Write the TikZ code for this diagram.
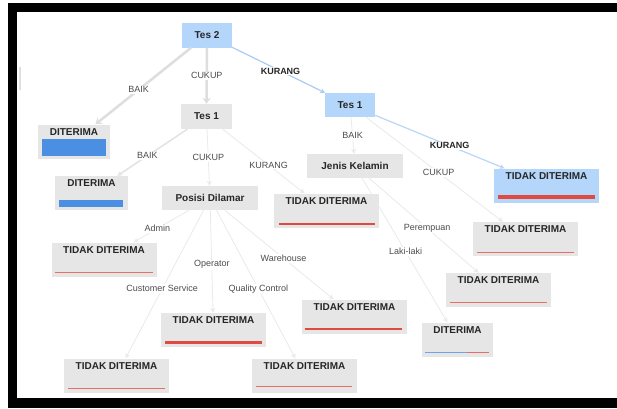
\documentclass[tikz,border=0pt]{standalone}
\usepackage{fontspec}
\setmainfont{Liberation Sans}
\usetikzlibrary{arrows.meta}

\definecolor{kotakabu}{HTML}{E6E6E6}
\definecolor{kotakbiru}{HTML}{B5D6FB}
\definecolor{batangbiru}{HTML}{4A8FE2}
\definecolor{batangmerah}{HTML}{E04A3F}
\definecolor{merahmuda}{HTML}{EA6E66}
\definecolor{garisabu}{HTML}{EAEAEA}
\definecolor{garisbiru}{HTML}{A9CCF6}

\begin{document}
\begin{tikzpicture}[x=1pt, y=-1pt, >={Stealth[length=5pt,width=5pt]},
    uji/.style={fill=kotakabu, minimum height=25pt, inner sep=0pt,
        font=\fontsize{10}{12}\selectfont\bfseries, text=black!85},
    hasil/.style={fill=kotakabu, minimum width=105pt, inner sep=0pt,
        text height=10.5pt, text depth=23.5pt,
        font=\fontsize{10}{12}\selectfont\bfseries, text=black!85},
    panah/.style={->, draw=garisabu, line width=0.8pt},
    ket/.style={fill=white, inner sep=1pt, text=black!70,
        font=\fontsize{9}{10}\selectfont},
    ketb/.style={ket, text=black!85, font=\fontsize{9}{10}\selectfont\bfseries}]

    % Frame
    \useasboundingbox (0,0) rectangle (617,408);
    \fill[white] (0,0) rectangle (617,408);
    \fill[black] (8,3) rectangle (617,408);
    \fill[white] (17,12) rectangle (617,398);
    \fill[black!12] (19,67) rectangle (21,90);

    % Tests
    \node[uji, fill=kotakbiru, minimum width=50pt] (tes2) at (207,35) {Tes 2};
    \node[uji, minimum width=51pt] (tes1a) at (206.5,116.5) {Tes 1};
    \node[uji, fill=kotakbiru, minimum width=50pt, minimum height=24pt] (tes1b) at (350,105) {Tes 1};
    \node[uji, minimum width=96pt, minimum height=24pt] (posisi) at (210,198) {Posisi Dilamar};
    \node[uji, minimum width=96pt, minimum height=24pt] (jenis) at (355,166) {Jenis Kelamin};

    % Results
    \node[hasil, minimum width=72pt] (dit1) at (74,141.5) {DITERIMA};
    \node[hasil, minimum width=73pt] (dit2) at (91.5,193) {DITERIMA};
    \node[hasil] (tdkKurang) at (326.5,210.5) {TIDAK DITERIMA};
    \node[hasil, fill=kotakbiru] (tdkBiru) at (546.5,185.5) {TIDAK DITERIMA};
    \node[hasil] (tdkCukup) at (525.5,239) {TIDAK DITERIMA};
    \node[hasil] (tdkPerempuan) at (498.5,290) {TIDAK DITERIMA};
    \node[hasil, minimum width=71pt] (ditLaki) at (457.5,339.5) {DITERIMA};
    \node[hasil] (tdkWarehouse) at (354.5,316.5) {TIDAK DITERIMA};
    \node[hasil] (tdkQC) at (304.5,375.5) {TIDAK DITERIMA};
    \node[hasil] (tdkOperator) at (213.5,330) {TIDAK DITERIMA};
    \node[hasil] (tdkCS) at (116.5,375.5) {TIDAK DITERIMA};
    \node[hasil] (tdkAdmin) at (104,259.5) {TIDAK DITERIMA};

    % Bars
    \fill[batangbiru] ([shift={(4pt,3pt)}]dit1.south west) rectangle ([shift={(-4pt,20pt)}]dit1.south east);
    \fill[batangbiru] ([shift={(4pt,3pt)}]dit2.south west) rectangle ([shift={(-5pt,10pt)}]dit2.south east);
    \draw[batangmerah, line width=2pt] ([shift={(5pt,4pt)}]tdkKurang.south west) -- ([shift={(-4pt,4pt)}]tdkKurang.south east);
    \draw[batangmerah, line width=4pt] ([shift={(4pt,6pt)}]tdkBiru.south west) -- ([shift={(-4pt,6pt)}]tdkBiru.south east);
    \draw[merahmuda, line width=1.3pt] ([shift={(4pt,4pt)}]tdkCukup.south west) -- ([shift={(-4pt,4pt)}]tdkCukup.south east);
    \draw[merahmuda, line width=1.3pt] ([shift={(4pt,4.5pt)}]tdkPerempuan.south west) -- ([shift={(-4pt,4.5pt)}]tdkPerempuan.south east);
    \draw[batangbiru!80, line width=1.5pt] ([shift={(3pt,4pt)}]ditLaki.south west) -- ([shift={(45pt,4pt)}]ditLaki.south west);
    \draw[batangmerah!80, line width=1.5pt] ([shift={(45pt,4pt)}]ditLaki.south west) -- ([shift={(-4pt,4pt)}]ditLaki.south east);
    \draw[batangmerah, line width=2pt] ([shift={(3pt,5pt)}]tdkWarehouse.south west) -- ([shift={(-5pt,5pt)}]tdkWarehouse.south east);
    \draw[merahmuda, line width=1.3pt] ([shift={(4pt,6pt)}]tdkQC.south west) -- ([shift={(-5pt,6pt)}]tdkQC.south east);
    \draw[batangmerah, line width=3pt] ([shift={(4pt,5pt)}]tdkOperator.south west) -- ([shift={(-4pt,5pt)}]tdkOperator.south east);
    \draw[merahmuda, line width=1.3pt] ([shift={(4pt,4.5pt)}]tdkCS.south west) -- ([shift={(-4pt,4.5pt)}]tdkCS.south east);
    \draw[merahmuda, line width=1.3pt] ([shift={(4pt,4pt)}]tdkAdmin.south west) -- ([shift={(-4pt,4pt)}]tdkAdmin.south east);

    % Tes 2 branches
    \draw[panah, draw=black!13, line width=2.5pt, -{Stealth[length=6pt,width=8pt]}] (tes2) -- node[ket, pos=0.55] {BAIK} (dit1);
    \draw[panah, draw=black!13, line width=2.5pt, -{Stealth[length=6pt,width=8pt]}] (tes2) -- node[ket, pos=0.5] {CUKUP} (tes1a);
    \draw[panah, draw=garisbiru, line width=1.2pt] (tes2) -- node[ketb, pos=0.52] {KURANG} (tes1b);

    % Tes 1 (CUKUP) branches
    \draw[panah, draw=black!11, line width=1.5pt] (tes1a) -- node[ket, pos=0.57] {BAIK} (dit2);
    \draw[panah] (tes1a) -- node[ket, pos=0.5] {CUKUP} (posisi);
    \draw[panah] (tes1a) -- node[ket, pos=0.56] {KURANG} (tdkKurang);

    % Tes 1 (KURANG) branches
    \draw[panah] (tes1b) -- node[ket, pos=0.5] {BAIK} (jenis);
    \draw[panah, draw=garisbiru!80, line width=1.2pt] (tes1b) -- node[ketb, pos=0.575] {KURANG} (tdkBiru);
    \draw[panah] (tes1b) -- node[ket, pos=0.53] {CUKUP} (tdkCukup);

    % Jenis Kelamin
    \draw[panah] (jenis) -- node[ket, pos=0.53] {Perempuan} (tdkPerempuan);
    \draw[panah] (jenis) -- node[ket, pos=0.51] {Laki-laki} (ditLaki);

    % Posisi Dilamar
    \draw[panah] (posisi) -- node[ket, pos=0.57] {Admin} (tdkAdmin);
    \draw[panah] (posisi) -- node[ket, pos=0.53] {Customer Service} (tdkCS);
    \draw[panah] (posisi) -- node[ket, pos=0.53] {Operator} (tdkOperator);
    \draw[panah] (posisi) -- node[ket, pos=0.53] {Quality Control} (tdkQC);
    \draw[panah] (posisi) -- node[ket, pos=0.54] {Warehouse} (tdkWarehouse);
\end{tikzpicture}
\end{document}
